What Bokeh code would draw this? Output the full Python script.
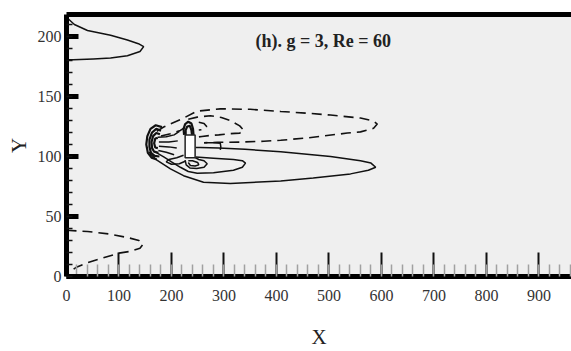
from bokeh.plotting import figure
from bokeh.models import (ColumnDataSource, LinearAxis, SingleIntervalTicker,
                          FixedTicker, Range1d, Label)
from bokeh.embed import file_html
from bokeh.resources import INLINE

# ---- contour lines (x, y pairs in flow coordinates) ----
# solid contours
tongue_x = [0, 15, 40, 84, 116, 137, 147, 140, 116, 84, 51, 13, 0]
tongue_y = [216, 210, 205, 201, 197, 194, 191.5, 187.5, 184, 182, 181.3, 180.5, 180.5]

wake_outer_x = [158, 160, 173, 198, 223, 261, 312, 408, 470, 541, 575, 589, 580, 560, 503, 408, 340, 290, 255, 246]
wake_outer_y = [104, 102, 96.7, 89.7, 84, 78.6, 77.5, 79.5, 82, 85.5, 88.5, 91, 94.5, 96.5, 100, 104, 106, 107, 107.5, 107.5]

wake_inner_x = [172, 186, 200, 217, 232, 249, 280, 318, 335, 341, 335, 318, 280, 246]
wake_inner_y = [103, 99.5, 95.5, 91, 87.5, 86, 86.5, 88.5, 91, 94.5, 96.5, 97.5, 98.6, 99.5]

front_c1_x = [182, 170, 160, 154, 152, 155, 162, 172]
front_c1_y = [124.5, 126, 123, 117, 110, 103, 99, 97.5]
front_c2_x = [180, 171, 163, 158, 158, 161, 168, 177]
front_c2_y = [121.5, 123, 120, 114, 108, 103, 100.5, 100]
front_c3_x = [178, 171, 165, 162, 163, 167, 175]
front_c3_y = [118.5, 119.5, 117, 112, 107, 104, 103]
front_c4_x = [174, 169, 167, 169, 174]
front_c4_y = [115.5, 115, 111, 107.5, 107]

gap_r1_x = [174, 190, 205, 215]
gap_r1_y = [116, 116.5, 118, 121]
gap_r2_x = [176, 195, 212]
gap_r2_y = [112, 112, 113]
gap_r3_x = [176, 195, 210]
gap_r3_y = [108.5, 108, 107]
gap_r4_x = [175, 190, 205]
gap_r4_y = [105, 103.5, 101.5]
gap_loop_x = [223, 210, 195, 190, 200, 215, 226]
gap_loop_y = [101, 99, 97.5, 95.5, 93.5, 94, 96]

cyl_top1_x = [224, 223, 226, 232, 238, 241, 242]
cyl_top1_y = [118, 123, 127, 129, 127.5, 123, 118]
cyl_top2_x = [227, 227, 230, 235, 238, 239]
cyl_top2_y = [118, 122, 125, 125.5, 122, 118]

cyl_bot1_x = [245, 252, 262, 268, 262, 248, 235, 228, 226]
cyl_bot1_y = [99, 97.5, 96.5, 94, 91, 90, 90.5, 93, 97]
cyl_bot2_x = [232, 240, 250, 252, 245, 236, 232]
cyl_bot2_y = [96.5, 96.5, 95, 93, 92, 92.5, 95]

hook_x = [262, 280, 293, 294, 293]
hook_y = [111.5, 111.5, 111, 108, 105.5]

# dashed contours
corner_x = [0, 40, 80, 116, 138, 146, 140, 122, 100, 70, 40, 20, 6]
corner_y = [38.5, 37.5, 35.5, 32.5, 30, 27, 23.5, 21, 19.5, 15.5, 11.5, 8, 4]

shear_outer_x = [172, 185, 198, 223, 249, 293, 350, 408, 460, 503, 560, 585, 592, 585, 560, 535, 459, 408, 376, 331, 288, 262]
shear_outer_y = [121, 124.5, 127.2, 132, 137.8, 139.7, 139.3, 137.5, 136, 134.5, 132, 129.5, 127, 123.5, 120.5, 119.5, 115.5, 113.5, 112.7, 112, 111.8, 111.5]

shear_inner_x = [232, 249, 274, 295, 312, 330, 338, 330, 312, 290, 274, 258, 246]
shear_inner_y = [131, 132.8, 134, 132.5, 130, 125.5, 121.7, 119.5, 119, 118, 117.5, 116.7, 116]

shear_small_x = [252, 262, 267, 262, 252]
shear_small_y = [128.5, 127.5, 125, 122.5, 122]

shear_left_x = [180, 198, 217, 225]
shear_left_y = [117, 119, 121.7, 124]

# square cylinder
cylinder_x = [226, 245]
cylinder_y = [99, 118]

FONT = "Liberation Serif"

p = figure(width=571, height=351, output_backend="svg", toolbar_location=None,
           x_range=Range1d(0, 962), y_range=Range1d(0, 218.3),
           x_axis_location=None, y_axis_location=None,
           min_border_left=66, min_border_right=0, min_border_top=14,
           min_border_bottom=75)
p.background_fill_color = "#efefef"
p.border_fill_color = "white"
p.outline_line_color = None
p.xgrid.visible = False
p.ygrid.visible = False

# bottom axis
xaxis = LinearAxis(ticker=SingleIntervalTicker(interval=100, num_minor_ticks=5),
                   axis_label="X")
xaxis.axis_line_width = 5
xaxis.axis_line_color = "black"
xaxis.major_tick_in = 24
xaxis.major_tick_out = 0
xaxis.major_tick_line_width = 2
xaxis.major_tick_line_color = "#111111"
xaxis.minor_tick_in = 12
xaxis.minor_tick_out = 0
xaxis.minor_tick_line_width = 1.5
xaxis.minor_tick_line_color = "#a0a0a0"
xaxis.major_label_text_font = FONT
xaxis.major_label_text_font_size = "16px"
xaxis.major_label_text_color = "#333333"
xaxis.major_label_standoff = 13
xaxis.axis_label_text_font = FONT
xaxis.axis_label_text_font_size = "21px"
xaxis.axis_label_text_font_style = "normal"
xaxis.axis_label_text_color = "#222222"
xaxis.axis_label_standoff = 21
p.add_layout(xaxis, "below")

# left axis
yaxis = LinearAxis(ticker=SingleIntervalTicker(interval=50, num_minor_ticks=5),
                   axis_label="Y")
yaxis.axis_line_width = 5
yaxis.axis_line_color = "black"
yaxis.major_tick_in = 12
yaxis.major_tick_out = 0
yaxis.major_tick_line_width = 5
yaxis.major_tick_line_color = "black"
yaxis.minor_tick_in = 6
yaxis.minor_tick_out = 0
yaxis.minor_tick_line_width = 1.5
yaxis.minor_tick_line_color = "#111111"
yaxis.major_label_text_font = FONT
yaxis.major_label_text_font_size = "16px"
yaxis.major_label_text_color = "#333333"
yaxis.major_label_standoff = 5
yaxis.axis_label_text_font = FONT
yaxis.axis_label_text_font_size = "21px"
yaxis.axis_label_text_font_style = "normal"
yaxis.axis_label_text_color = "#222222"
yaxis.axis_label_standoff = 4
p.add_layout(yaxis, "left")

# heavy top border
top = LinearAxis(ticker=FixedTicker(ticks=[]))
top.axis_line_width = 5
top.axis_line_color = "black"
top.major_tick_line_color = None
top.minor_tick_line_color = None
top.major_label_text_font_size = "0px"
top.major_label_standoff = 0
p.add_layout(top, "above")

solid = [
    (tongue_x, tongue_y), (wake_outer_x, wake_outer_y), (wake_inner_x, wake_inner_y),
    (gap_r1_x, gap_r1_y), (gap_r2_x, gap_r2_y), (gap_r3_x, gap_r3_y), (gap_r4_x, gap_r4_y),
    (gap_loop_x, gap_loop_y), (cyl_bot1_x, cyl_bot1_y), (cyl_bot2_x, cyl_bot2_y),
    (hook_x, hook_y),
]
dense = [
    (front_c1_x, front_c1_y), (front_c2_x, front_c2_y), (front_c3_x, front_c3_y),
    (front_c4_x, front_c4_y), (cyl_top1_x, cyl_top1_y), (cyl_top2_x, cyl_top2_y),
]
dashed = [
    (corner_x, corner_y), (shear_outer_x, shear_outer_y), (shear_inner_x, shear_inner_y),
    (shear_small_x, shear_small_y), (shear_left_x, shear_left_y),
]

def src(lines):
    return ColumnDataSource(dict(xs=[l[0] for l in lines], ys=[l[1] for l in lines]))

p.multi_line("xs", "ys", source=src(solid), line_color="#111111", line_width=1.5)
p.multi_line("xs", "ys", source=src(dense), line_color="#111111", line_width=2.2)
p.multi_line("xs", "ys", source=src(dashed), line_color="#111111", line_width=1.6,
             line_dash="10 6")

# the cylinder body
p.quad(left=[cylinder_x[0]], right=[cylinder_x[1]], bottom=[cylinder_y[0]],
       top=[cylinder_y[1]], fill_color="white", line_color="#222222", line_width=1.5)

p.add_layout(Label(x=360, y=196, text="(h). g = 3, Re = 60", text_font=FONT,
                   text_font_size="18px", text_font_style="bold",
                   text_color="#222222", text_baseline="middle"))

open("out.html", "w").write(file_html(p, INLINE))
